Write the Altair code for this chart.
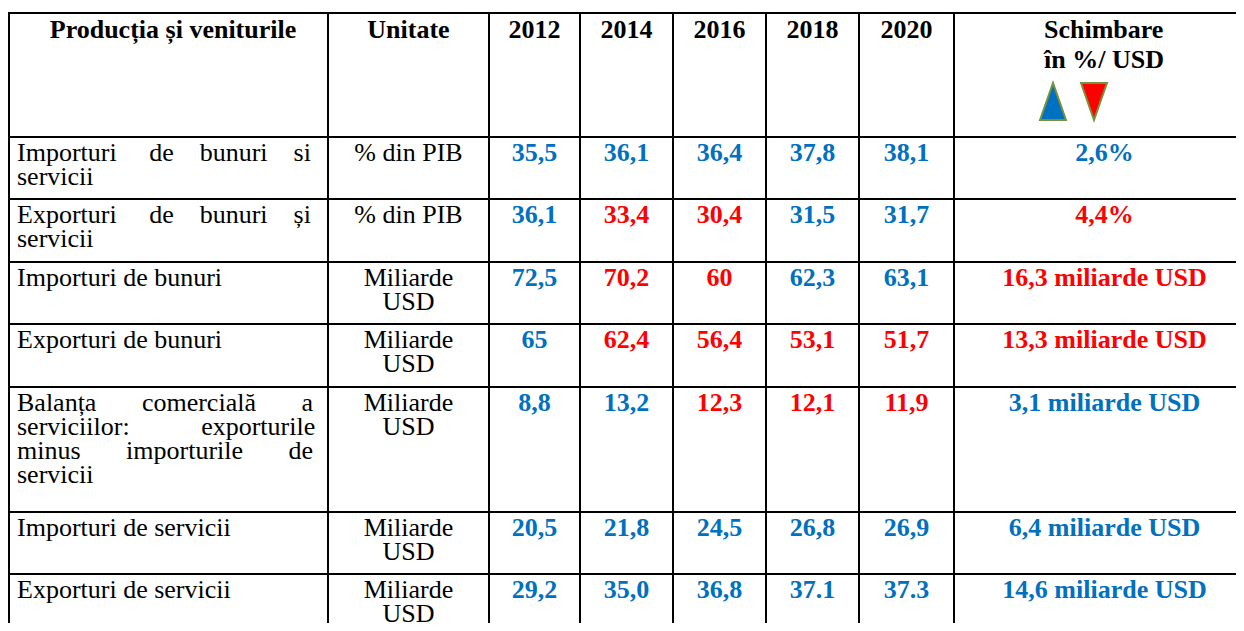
import altair as alt
import pandas as pd

# ------------------------------------------------------------------ data
title = "2012-2020"
header_first = "Producția și veniturile"
header_unit = "Unitate"
years = ["2012", "2014", "2016", "2018", "2020"]
header_change = ["Schimbare", "în %/ USD"]
legend_symbols = ["up", "down"]

indicators = [
    ["Importuri de bunuri si", "servicii"],
    ["Exporturi de bunuri și", "servicii"],
    ["Importuri de bunuri"],
    ["Exporturi de bunuri"],
    ["Balanța comercială a", "serviciilor: exporturile", "minus importurile de", "servicii"],
    ["Importuri de servicii"],
    ["Exporturi de servicii"],
]
units = [
    ["% din PIB"],
    ["% din PIB"],
    ["Miliarde", "USD"],
    ["Miliarde", "USD"],
    ["Miliarde", "USD"],
    ["Miliarde", "USD"],
    ["Miliarde", "USD"],
]
values = [
    ["35,5", "36,1", "36,4", "37,8", "38,1"],
    ["36,1", "33,4", "30,4", "31,5", "31,7"],
    ["72,5", "70,2", "60", "62,3", "63,1"],
    ["65", "62,4", "56,4", "53,1", "51,7"],
    ["8,8", "13,2", "12,3", "12,1", "11,9"],
    ["20,5", "21,8", "24,5", "26,8", "26,9"],
    ["29,2", "35,0", "36,8", "37.1", "37.3"],
]
trends = [
    ["up", "up", "up", "up", "up"],
    ["up", "down", "down", "up", "up"],
    ["up", "down", "down", "up", "up"],
    ["up", "down", "down", "down", "down"],
    ["up", "up", "down", "down", "down"],
    ["up", "up", "up", "up", "up"],
    ["up", "up", "up", "up", "up"],
]
changes = ["2,6%", "4,4%", "16,3 miliarde USD", "13,3 miliarde USD",
           "3,1 miliarde USD", "6,4 miliarde USD", "14,6 miliarde USD"]
change_trends = ["up", "down", "down", "down", "up", "up", "up"]

# ------------------------------------------------------------------ layout (page pixels)
FONT = "Liberation Serif"
FS = 26
LINE = 24
COLORS = {"up": "#0070C0", "down": "#FF0000", "none": "#000000"}
col_edges = [9, 328, 489, 580, 673, 766, 859, 954, 1255]
row_edges = [13, 137, 199, 262, 324, 387, 512, 574, 637]
TEXT_L, TEXT_R = 17, 312
NBSP = "\u00a0"

# Times-compatible advance widths (per 1000 em) used for justification
REG = {" ": 250, "a": 444, "b": 500, "c": 444, "d": 500, "e": 444, "f": 333, "g": 500,
       "h": 500, "i": 278, "j": 278, "k": 500, "l": 278, "m": 778, "n": 500, "o": 500,
       "p": 500, "q": 500, "r": 333, "s": 389, "t": 278, "u": 500, "v": 500, "w": 722,
       "x": 500, "y": 500, "z": 444, "B": 667, "E": 611, "I": 333, ":": 278, "ț": 278,
       "ș": 389, "ă": 444}


def tw(s):
    return sum(REG.get(c, 500) for c in s) * FS / 1000.0


def justify(line):
    words = line.split(" ")
    if len(words) < 2:
        return line
    gaps = len(words) - 1
    space_w = REG[" "] * FS / 1000.0
    total = int(round((TEXT_R - TEXT_L - sum(tw(w) for w in words)) / space_w))
    base, extra = divmod(total, gaps)
    out = words[0]
    for i, w in enumerate(words[1:]):
        out += NBSP * (base + (1 if i < extra else 0)) + w
    return out


def center(i):
    return (col_edges[i] + col_edges[i + 1]) / 2.0


recs = []


def add(x, y, lines, weight="normal", align="left", trend="none", lh=LINE):
    recs.append(dict(x=float(x), y=float(y), label="\n".join(lines), weight=weight,
                     anchor=align, trend=trend, lh=lh))


# header
add(center(0) + 4.5, row_edges[0] + 25, [header_first], "bold", "center")
add(center(1), row_edges[0] + 25, [header_unit], "bold", "center")
for j, yr in enumerate(years):
    add(center(2 + j), row_edges[0] + 25, [yr], "bold", "center")
add(col_edges[7] + 90, row_edges[0] + 25, header_change, "bold", "left", lh=30)

# body
for r in range(len(indicators)):
    top = row_edges[r + 1]
    lines = indicators[r]
    cell = [justify(l) if k < len(lines) - 1 else l for k, l in enumerate(lines)]
    add(TEXT_L, top + LINE, cell, "normal", "left")
    add(center(1), top + LINE, units[r], "normal", "center")
    for j in range(len(years)):
        add(center(2 + j), top + LINE, [values[r][j]], "bold", "center", trends[r][j])
    add(center(7), top + LINE, [changes[r]], "bold", "center", change_trends[r])

df_text = pd.DataFrame(recs)

# grid lines
rules = []
for x in col_edges:
    rules.append(dict(x=x, x2=x, y=row_edges[0], y2=row_edges[-1]))
for y in row_edges:
    rules.append(dict(x=col_edges[0] - 1, x2=col_edges[-1], y=y, y2=y))
df_rules = pd.DataFrame(rules)

# legend triangles in header
tri_cx = [col_edges[7] + 99, col_edges[7] + 140]
df_tri = pd.DataFrame(dict(x=tri_cx, y=[101.5, 101.5], trend=legend_symbols))

# ------------------------------------------------------------------ chart
W, H = 1228, 615
XS = alt.Scale(domain=[8, 8 + W], nice=False, zero=False)
YS = alt.Scale(domain=[8, 8 + H], nice=False, zero=False, reverse=True)


def xenc():
    return alt.X("x:Q", scale=XS, axis=None)


def yenc():
    return alt.Y("y:Q", scale=YS, axis=None)


layers = [
    alt.Chart(df_rules).mark_rule(color="black", strokeWidth=2, clip=True).encode(
        x=xenc(), x2="x2:Q", y=yenc(), y2="y2:Q")
]
for weight in ["normal", "bold"]:
    for align in ["left", "center", "right"]:
        for trend, col in COLORS.items():
            for lh in sorted(df_text.lh.unique()):
                sub = df_text[(df_text.weight == weight) & (df_text.anchor == align)
                              & (df_text.trend == trend) & (df_text.lh == lh)]
                if len(sub) == 0:
                    continue
                layers.append(
                    alt.Chart(sub.reset_index(drop=True)).mark_text(
                        font=FONT, fontSize=FS, fontWeight=weight, align=align,
                        baseline="alphabetic", color=col, lineBreak="\n",
                        lineHeight=int(lh)).encode(
                        x=xenc(), y=yenc(), text="label:N")
                )
for sym, path in zip(legend_symbols, ["M0,-1L-0.7,1L0.7,1Z", "M0,1L-0.7,-1L0.7,-1Z"]):
    layers.append(
        alt.Chart(df_tri[df_tri.trend == sym].reset_index(drop=True)).mark_point(
            shape=path, filled=True, size=1369, fill=COLORS[sym], stroke="#76923C",
            strokeWidth=2, opacity=1, fillOpacity=1).encode(x=xenc(), y=yenc())
    )

chart = alt.layer(*layers).properties(
    width=W, height=H, padding=0, background="white",
    autosize=alt.AutoSizeParams(type="none"),
).configure_view(stroke=None)

chart.save("out.html", embed_options={"renderer": "svg", "actions": False})
